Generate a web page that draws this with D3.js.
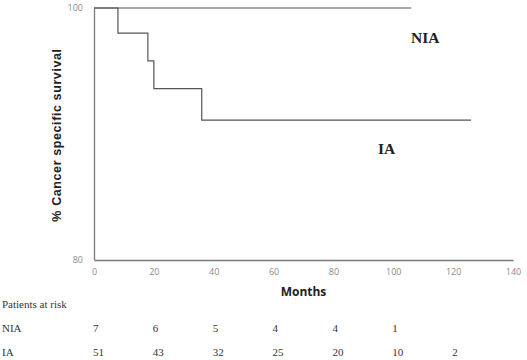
<!DOCTYPE html>
<html><head><meta charset="utf-8">
<script src="https://cdn.jsdelivr.net/npm/d3@7"></script>
<style>html,body{margin:0;padding:0;background:#fff}</style>
</head><body>
<svg id="c" width="527" height="360"></svg>
<script>
const xTicks = [0,20,40,60,80,100,120,140];
const yTicks = [80,100];
const iaTimes = [0, 8, 18, 20, 36, 126];
const iaSurv  = [100, 98.0, 95.8, 93.6, 91.1, 91.1];
const niaTimes = [0, 106];
const niaSurv  = [100, 100];
const riskMonths = [0,20,40,60,80,100,120];
const riskNIA = [7,6,5,4,4,1];
const riskIA  = [51,43,32,25,20,10,2];

const svg = d3.select("#c");
const x = d3.scaleLinear().domain([0,140]).range([94,513]);
const y = d3.scaleLinear().domain([80,100]).range([260,8]);

// axes
const xa = svg.append("g").attr("transform","translate(0,260)")
  .call(d3.axisBottom(x).tickValues(xTicks).tickSize(0).tickPadding(9));
const ya = svg.append("g").attr("transform","translate(94,0)")
  .call(d3.axisLeft(y).tickValues(yTicks).tickSize(0).tickPadding(11));
[xa,ya].forEach(a=>{
  a.select(".domain").attr("stroke","#7a7a7a").attr("stroke-width",1.3);
  a.selectAll("text").attr("fill","#8a8a8a").style("font-family","'Open Sans', sans-serif").style("font-size","9px");
});

const line = d3.line().curve(d3.curveStepAfter).x(d=>x(d[0])).y(d=>y(d[1]));
svg.append("path").datum(iaTimes.map((t,i)=>[t,iaSurv[i]]))
  .attr("d",line).attr("fill","none").attr("stroke","#555").attr("stroke-width",1.2);
svg.append("path").datum(niaTimes.map((t,i)=>[t,niaSurv[i]]))
  .attr("d",line).attr("fill","none").attr("stroke","#555").attr("stroke-width",1.2);

// labels
svg.append("text").attr("x",x(70)).attr("y",296).attr("text-anchor","middle")
  .style("font-family","'Open Sans', sans-serif").style("font-weight","bold").style("font-size","12px")
  .attr("fill","#222").text("Months");
svg.append("text").attr("transform","translate(61,135) rotate(-90)").attr("text-anchor","middle")
  .style("font-family","Arial, 'Liberation Sans', sans-serif").style("font-weight","bold").style("font-size","12.5px")
  .style("letter-spacing","0.6px").attr("fill","#222").text("% Cancer specific survival");

svg.append("text").attr("x",411).attr("y",43)
  .style("font-family","'Liberation Serif', 'Times New Roman', serif").style("font-weight","bold").style("font-size","15.5px")
  .attr("fill","#222").text("NIA");
svg.append("text").attr("x",378).attr("y",154)
  .style("font-family","'Liberation Serif', 'Times New Roman', serif").style("font-weight","bold").style("font-size","15.5px")
  .attr("fill","#222").text("IA");

const serif = "'Liberation Serif', 'Times New Roman', serif";
svg.append("text").attr("x",2).attr("y",308).style("font-family",serif).style("font-size","11px")
  .attr("fill","#333").text("Patients at risk");
svg.append("text").attr("x",2).attr("y",332).style("font-family",serif).style("font-size","11px")
  .attr("fill","#333").text("NIA");
svg.append("text").attr("x",2).attr("y",356).style("font-family",serif).style("font-size","11px")
  .attr("fill","#333").text("IA");
svg.selectAll(".rn").data(riskNIA).enter().append("text")
  .attr("x",(d,i)=>x(riskMonths[i])-1).attr("y",332).style("font-family",serif).style("font-size","11px")
  .attr("fill","#333").text(d=>d);
svg.selectAll(".ri").data(riskIA).enter().append("text")
  .attr("x",(d,i)=>x(riskMonths[i])-1).attr("y",356).style("font-family",serif).style("font-size","11px")
  .attr("fill","#333").text(d=>d);
</script>
</body></html>
